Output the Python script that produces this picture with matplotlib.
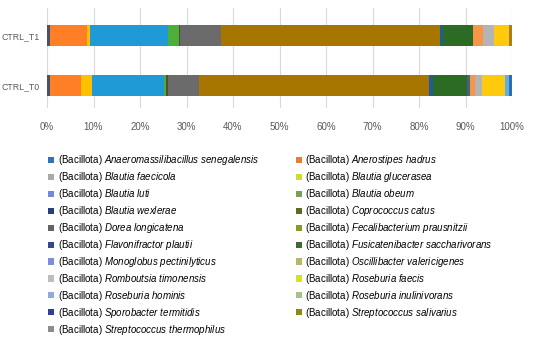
import matplotlib
matplotlib.use("Agg")
import matplotlib.pyplot as plt
from matplotlib.patches import Patch

plt.rcParams['font.family'] = ['Liberation Sans', 'DejaVu Sans']
plt.rcParams['mathtext.fontset'] = 'custom'
plt.rcParams['mathtext.rm'] = 'Liberation Sans'
plt.rcParams['mathtext.it'] = 'Liberation Sans:italic'

# ---- data ----
samples = ["CTRL_T0", "CTRL_T1"]
segment_colors = ["#44546a", "#ff7f27", "#ffc000", "#1f9ad6", "#4caf3a", "#5a4a2a",
                  "#6b6b6b", "#a67600", "#1f5c99", "#2b6b24", "#4a6080", "#f79646",
                  "#b4b4b4", "#ffc90e", "#5fb0e6", "#a8801a", "#2e6db0"]
t0_values = [0.6, 6.7, 2.4, 15.5, 0.3, 0.5, 6.6, 49.45, 0.85, 7.4, 0.6, 1.1,
             1.6, 4.8, 1.0, 0.0, 0.6]
t1_values = [0.6, 8.0, 0.7, 16.8, 2.2, 0.3, 8.8, 47.1, 0.7, 6.5, 0.0, 2.0,
             2.4, 3.3, 0.0, 0.6, 0.0]

legend_species = [
    "Anaeromassilibacillus senegalensis", "Anerostipes hadrus",
    "Blautia faecicola", "Blautia glucerasea",
    "Blautia luti", "Blautia obeum",
    "Blautia wexlerae", "Coprococcus catus",
    "Dorea longicatena", "Fecalibacterium prausnitzii",
    "Flavonifractor plautii", "Fusicatenibacter saccharivorans",
    "Monoglobus pectinilyticus", "Oscillibacter valericigenes",
    "Romboutsia timonensis", "Roseburia faecis",
    "Roseburia hominis", "Roseburia inulinivorans",
    "Sporobacter termitidis", "Streptococcus salivarius",
    "Streptococcus thermophilus",
]
legend_colors = [
    "#2e75b6", "#f07a32",
    "#a9a9a9", "#d2dc2c",
    "#6f8ad8", "#77a05a",
    "#253f7a", "#5f6a22",
    "#636363", "#8a9a22",
    "#2f4a8f", "#3b6b33",
    "#7b8fd6", "#b5b86b",
    "#bdbdbd", "#d9e021",
    "#8faadc", "#a9c08a",
    "#2f3f9a", "#8a8a1a",
    "#8c8c8c",
]
phylum = "Bacillota"

# ---- figure ----
fig = plt.figure(figsize=(5.5, 3.38), dpi=100)
ax = fig.add_axes([0.0855, 0.68, 0.8455, 0.296])

y = [0, 1]
left = [0.0, 0.0]
for i, c in enumerate(segment_colors):
    w = [t0_values[i], t1_values[i]]
    ax.barh(y, w, left=left, height=0.42, color=c, edgecolor='none', zorder=3)
    left = [left[0] + w[0], left[1] + w[1]]

ax.set_xlim(0, 100)
ax.set_ylim(-0.45, 1.55)
ax.set_xticks(range(0, 101, 10))
ax.set_xticklabels([f"{v}%" for v in range(0, 101, 10)])
ax.set_yticks(y)
ax.set_yticklabels(samples)
ax.grid(axis='x', color='#d9d9d9', linewidth=0.8, zorder=0)
for s in ax.spines.values():
    s.set_visible(False)
ax.tick_params(axis='both', length=0, labelcolor='#595959')
ax.tick_params(axis='x', pad=10, labelsize=7)
ax.tick_params(axis='y', pad=5, labelsize=6.3)

# legend: row-major reference order -> column-major for matplotlib
left_col = list(range(0, len(legend_species), 2))
right_col = list(range(1, len(legend_species), 2))
order = left_col + right_col
handles = []
labels = []
for k in order:
    name = legend_species[k].replace(" ", r"\ ")
    handles.append(Patch(facecolor=legend_colors[k], edgecolor='none'))
    labels.append(f"({phylum}) $\\mathit{{{name}}}$")

fig.legend(handles, labels, ncol=2, loc='upper left', bbox_to_anchor=(0.087, 0.546),
           frameon=False, fontsize=7, handlelength=0.6, handleheight=0.6,
           handletextpad=0.4, columnspacing=3.8, labelspacing=0.3,
           borderaxespad=0, borderpad=0)

fig.savefig("out.png", dpi=100)
